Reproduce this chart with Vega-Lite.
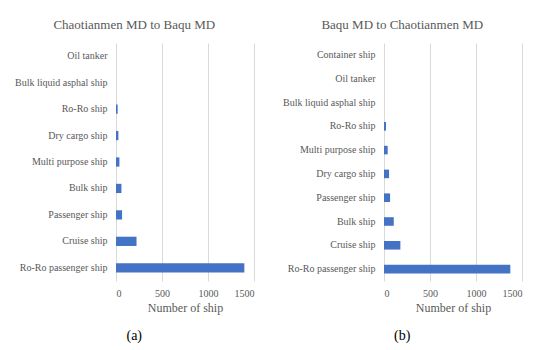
{
  "$schema": "https://vega.github.io/schema/vega-lite/v6.json",
  "background": "white",
  "padding": {"left": 14, "top": 19, "right": 5, "bottom": 3},
  "datasets": {
    "a": [
      {"ship": "Oil tanker", "count": 0},
      {"ship": "Bulk liquid asphal ship", "count": 0},
      {"ship": "Ro-Ro ship", "count": 18},
      {"ship": "Dry cargo ship", "count": 26},
      {"ship": "Multi purpose ship", "count": 37},
      {"ship": "Bulk ship", "count": 59},
      {"ship": "Passenger ship", "count": 66},
      {"ship": "Cruise ship", "count": 223},
      {"ship": "Ro-Ro passenger ship", "count": 1395}
    ],
    "b": [
      {"ship": "Container ship", "count": 0},
      {"ship": "Oil tanker", "count": 0},
      {"ship": "Bulk liquid asphal ship", "count": 0},
      {"ship": "Ro-Ro ship", "count": 22},
      {"ship": "Multi purpose ship", "count": 40},
      {"ship": "Dry cargo ship", "count": 55},
      {"ship": "Passenger ship", "count": 66},
      {"ship": "Bulk ship", "count": 106},
      {"ship": "Cruise ship", "count": 178},
      {"ship": "Ro-Ro passenger ship", "count": 1373}
    ]
  },
  "config": {
    "font": "Times New Roman, Liberation Serif, serif",
    "view": {"stroke": null},
    "axis": {
      "labelFont": "Times New Roman, Liberation Serif, serif",
      "titleFont": "Times New Roman, Liberation Serif, serif",
      "labelColor": "#595959",
      "titleColor": "#595959",
      "gridColor": "#d9d9d9",
      "domain": false,
      "ticks": false,
      "labelFontSize": 10,
      "titleFontSize": 12,
      "titleFontWeight": "normal"
    },
    "title": {"font": "Times New Roman, Liberation Serif, serif", "fontWeight": "normal"},
    "concat": {"spacing": 28}
  },
  "hconcat": [
    {
      "title": {"text": "(a)", "orient": "bottom", "fontSize": 14, "color": "black", "anchor": "middle", "offset": 16},
      "vconcat": [
        {
          "title": {"text": "Chaotianmen MD to Baqu MD", "fontSize": 13, "color": "#595959", "frame": "bounds", "anchor": "middle", "offset": 11},
          "data": {"name": "a"},
          "width": 138,
          "height": 238,
          "mark": {"type": "bar", "color": "#4472C4"},
          "encoding": {
            "y": {
              "field": "ship", "type": "nominal",
              "sort": ["Oil tanker", "Bulk liquid asphal ship", "Ro-Ro ship", "Dry cargo ship", "Multi purpose ship", "Bulk ship", "Passenger ship", "Cruise ship", "Ro-Ro passenger ship"],
              "title": null,
              "scale": {"paddingInner": 0.65, "paddingOuter": 0.325},
              "axis": {"grid": false, "labelPadding": 9}
            },
            "x": {
              "field": "count", "type": "quantitative",
              "scale": {"domain": [0, 1500]},
              "title": "Number of ship",
              "axis": {"values": [0, 500, 1000, 1500], "grid": true, "labelPadding": 7, "titlePadding": 4, "format": "d"}
            }
          }
        }
      ]
    },
    {
      "title": {"text": "(b)", "orient": "bottom", "fontSize": 14, "color": "black", "anchor": "middle", "offset": 16},
      "vconcat": [
        {
          "title": {"text": "Baqu MD to Chaotianmen MD", "fontSize": 13, "color": "#595959", "frame": "bounds", "anchor": "middle", "offset": 11},
          "data": {"name": "b"},
          "width": 138,
          "height": 238,
          "mark": {"type": "bar", "color": "#4472C4"},
          "encoding": {
            "y": {
              "field": "ship", "type": "nominal",
              "sort": ["Container ship", "Oil tanker", "Bulk liquid asphal ship", "Ro-Ro ship", "Multi purpose ship", "Dry cargo ship", "Passenger ship", "Bulk ship", "Cruise ship", "Ro-Ro passenger ship"],
              "title": null,
              "scale": {"paddingInner": 0.64, "paddingOuter": 0.32},
              "axis": {"grid": false, "labelPadding": 9}
            },
            "x": {
              "field": "count", "type": "quantitative",
              "scale": {"domain": [0, 1500]},
              "title": "Number of ship",
              "axis": {"values": [0, 500, 1000, 1500], "grid": true, "labelPadding": 7, "titlePadding": 4, "format": "d"}
            }
          }
        }
      ]
    }
  ]
}
